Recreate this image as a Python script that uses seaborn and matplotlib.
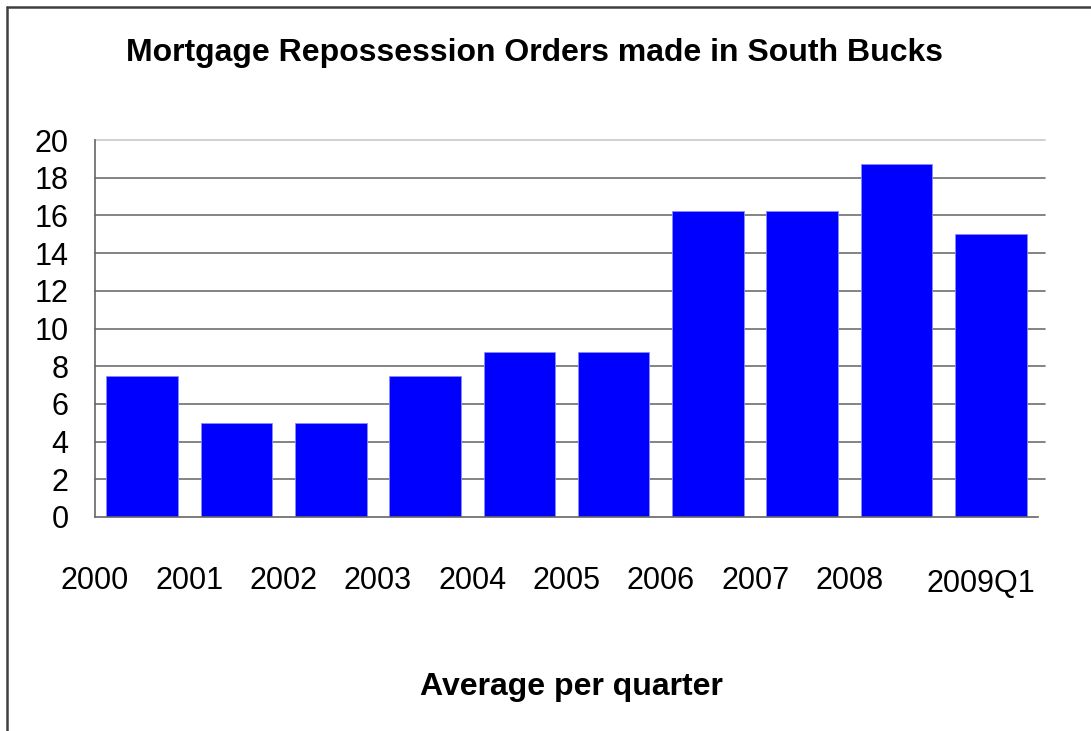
import matplotlib
matplotlib.use("Agg")
import matplotlib.pyplot as plt
from matplotlib.lines import Line2D
import seaborn as sns
import pandas as pd

# Average mortgage repossession orders per quarter, by year
years = ["2000", "2001", "2002", "2003", "2004", "2005", "2006", "2007", "2008", "2009Q1"]
orders = [7.5, 5.0, 5.0, 7.5, 8.75, 8.75, 16.25, 16.25, 18.75, 15.0]
y_ticks = [0, 2, 4, 6, 8, 10, 12, 14, 16, 18, 20]

df = pd.DataFrame({"period": years, "orders": orders})

sns.set_style("white")
plt.rcParams["font.family"] = ["Liberation Sans", "DejaVu Sans"]
plt.rcParams["text.color"] = "black"
plt.rcParams["xtick.color"] = "black"
plt.rcParams["ytick.color"] = "black"

fig = plt.figure(figsize=(10.91, 7.31), dpi=100)
ax = fig.add_axes([95 / 1091, 1 - 517 / 731, (1038 - 95) / 1091, (517 - 140) / 731])

sns.barplot(data=df, x="period", y="orders", color="#0000FF", saturation=1,
            width=0.76, edgecolor="#8c8cff", linewidth=0.6, ax=ax, zorder=3)

n = len(years)
ax.set_xlim(-0.5, n - 0.5)
ax.set_ylim(0, 20)

# horizontal gridlines, running slightly past the last category boundary
for v in y_ticks[1:]:
    col = "#c8c8c8" if v == 20 else "#6e6e6e"
    ax.add_line(Line2D([-0.5, n - 0.43], [v, v], color=col, lw=1.2,
                       zorder=1, clip_on=False))

ax.set_yticks(y_ticks)
ax.set_yticklabels([str(t) for t in y_ticks], fontsize=22)

# tick marks on category boundaries; year labels sit under the boundaries
bounds = [i - 0.5 for i in range(n + 1)]
ax.set_xticks(bounds)
ax.set_xticklabels(years[:-1] + ["", ""], fontsize=22)
ax.text(8.89, -3.55, years[-1], ha="center", va="center", fontsize=22,
        transform=ax.transData, clip_on=False)

ax.tick_params(axis="x", length=7, width=1, color="#555555", pad=28, direction="out")
ax.tick_params(axis="y", length=7, width=1, color="#555555", pad=12, direction="out")

for side in ["top", "right"]:
    ax.spines[side].set_visible(False)
for side in ["left", "bottom"]:
    ax.spines[side].set_color("#666666")
    ax.spines[side].set_linewidth(1.2)
    ax.spines[side].set_zorder(4)

ax.set_xlabel("")
ax.set_ylabel("")

fig.text(535 / 1091, 1 - 61 / 731, "Mortgage Repossession Orders made in South Bucks",
         ha="center", va="baseline", fontsize=23, fontweight="bold")
fig.text(571 / 1091, 1 - 695 / 731, "Average per quarter",
         ha="center", va="baseline", fontsize=23, fontweight="bold")

# chart frame (left and top edges)
fig.add_artist(Line2D([7 / 1091, 7 / 1091], [0, 1 - 7 / 731], color="#404040", lw=1.8,
                      transform=fig.transFigure))
fig.add_artist(Line2D([7 / 1091, 1], [1 - 7 / 731, 1 - 7 / 731], color="#404040", lw=1.8,
                      transform=fig.transFigure))

fig.savefig("out.png", dpi=100)
